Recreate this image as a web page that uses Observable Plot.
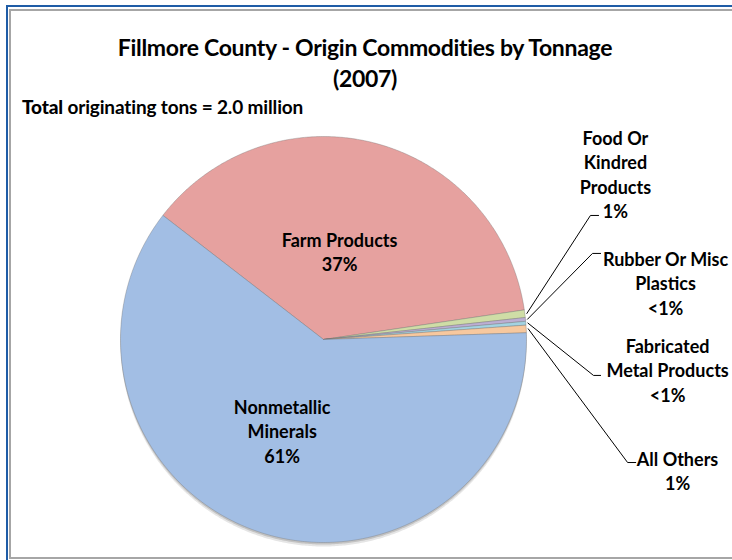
<!DOCTYPE html>
<html>
<head>
<meta charset="utf-8">
<script src="https://cdn.jsdelivr.net/npm/d3@7"></script>
<script src="https://cdn.jsdelivr.net/npm/@observablehq/plot@0.6"></script>
<style>
  html, body { margin: 0; padding: 0; background: #fff; }
  #wrap { position: relative; width: 732px; height: 560px; overflow: hidden; font-family: Lato, "Open Sans", sans-serif; color: #000; }
  .frameO { position: absolute; left: 6px; top: 5px; width: 900px; height: 700px; border-left: 2px solid #1F5CA6; border-top: 2px solid #1F5CA6; }
  .frameI { position: absolute; left: 9px; top: 9px; width: 900px; height: 546px; border: 2px solid #A6A6A6; }
  #chart { position: absolute; left: 0; top: 0; }
  .title { position: absolute; left: 0; width: 730px; text-align: center; font-weight: 700; font-size: 23px; line-height: 26px; letter-spacing: -0.3px; }
  .total { position: absolute; left: 22px; top: 96px; font-weight: 700; font-size: 19px; line-height: 22px; letter-spacing: -0.15px; }
  .total b { font-weight: 900; }
</style>
</head>
<body>
<div id="wrap">
  <div class="frameO"></div>
  <div class="frameI"></div>
  <div id="chart"></div>
  <div class="title" style="top:34px">Fillmore County - Origin Commodities by Tonnage</div>
  <div class="title" style="top:65px">(2007)</div>
  <div class="total"><b>Total</b> originating tons = 2.0 million</div>
</div>
<script>
// ---- data ----
const categories = ["Farm Products", "Food Or Kindred Products", "Rubber Or Misc Plastics", "Fabricated Metal Products", "All Others", "Nonmetallic Minerals"];
const shares = [37.2, 0.6, 0.3, 0.3, 0.6, 61.0];
const percentLabels = ["37%", "1%", "<1%", "<1%", "1%", "61%"];
const labelNames = [
  ["Farm Products"],
  ["Food Or", "Kindred", "Products"],
  ["Rubber Or Misc", "Plastics"],
  ["Fabricated", "Metal Products"],
  ["All Others"],
  ["Nonmetallic", "Minerals"]
];

// ---- styling / layout ----
const sliceColors = ["#E6A19F", "#CFDDA6", "#BCAED3", "#A3D3E2", "#F7C89E", "#A2BEE4"];
const startDeg = 307.7;            // first slice starts here (clockwise from 12 o'clock)
const cx = 323, cy = 339, R = 203; // pie placement in pixels
const insideLayout = {"Farm Products": {f: 0.45, dx: -7}, "Nonmetallic Minerals": {f: 0.47, dx: -12}};
const calloutLayout = {
  "Food Or Kindred Products":  {elbow: [1.315, 0.611], tail: 0.04, text: [1.438, 0.818]},
  "Rubber Or Misc Plastics":   {elbow: [1.325, 0.424], tail: 0.04, text: [1.685, 0.281]},
  "Fabricated Metal Products": {elbow: [1.330, -0.177], tail: 0.035, text: [1.695, -0.148]},
  "All Others":                {elbow: [1.498, -0.606], tail: 0.04, text: [1.744, -0.643]}
};
const labelFont = 18, labelLeading = 1.36;

const rows = categories.map((name, i) => ({name, share: shares[i], pct: percentLabels[i], label: labelNames[i], color: sliceColors[i]}));
const start = startDeg * Math.PI / 180;
const arcs = d3.pie().sort(null).value(d => d.share).startAngle(start).endAngle(start + 2 * Math.PI)(rows);

function arcPoints(a0, a1, withCenter) {
  const n = Math.max(2, Math.ceil((a1 - a0) / (0.5 * Math.PI / 180)));
  const pts = withCenter ? [{x: 0, y: 0}] : [];
  for (let k = 0; k <= n; k++) {
    const t = a0 + (a1 - a0) * k / n;
    pts.push({x: Math.sin(t), y: Math.cos(t)});
  }
  if (withCenter) pts.push({x: 0, y: 0});
  return pts;
}

const outline = arcPoints(0, 2 * Math.PI, false);
const sliceMarks = arcs.map(a =>
  Plot.line(arcPoints(a.startAngle, a.endAngle, true), {
    x: "x", y: "y", fill: a.data.color, stroke: "#707070", strokeOpacity: 0.5, strokeWidth: 0.7, strokeLinejoin: "round"
  })
);

const mid = a => (a.startAngle + a.endAngle) / 2;
const inside = arcs.filter(a => insideLayout[a.data.name]).map(a => {
  const L = insideLayout[a.data.name];
  return {x: Math.sin(mid(a)) * L.f + L.dx / R, y: Math.cos(mid(a)) * L.f, text: [...a.data.label, a.data.pct].join("\n")};
});
const leaders = [];
const callTexts = [];
for (const a of arcs) {
  const L = calloutLayout[a.data.name];
  if (!L) continue;
  const m = mid(a);
  leaders.push({name: a.data.name, x: Math.sin(m) * 1.01, y: Math.cos(m) * 1.01});
  leaders.push({name: a.data.name, x: L.elbow[0], y: L.elbow[1]});
  leaders.push({name: a.data.name, x: L.elbow[0] + L.tail, y: L.elbow[1]});
  callTexts.push({x: L.text[0], y: L.text[1], text: [...a.data.label, a.data.pct].join("\n")});
}

const plot = Plot.plot({
  width: 732,
  height: 560,
  margin: 0,
  x: {domain: [-1, 1], range: [cx - R, cx + R], axis: null},
  y: {domain: [-1, 1], range: [cy + R, cy - R], axis: null},
  style: {background: "transparent", overflow: "visible", fontFamily: "Lato, 'Open Sans', sans-serif"},
  marks: [
    Plot.line(outline, {x: "x", y: "y", fill: "#000", fillOpacity: 0.10, dy: 4}),
    Plot.line(outline, {x: "x", y: "y", fill: "#000", fillOpacity: 0.15, dy: 2}),
    ...sliceMarks,
    Plot.line(leaders, {x: "x", y: "y", z: "name", stroke: "#000", strokeWidth: 1}),
    Plot.text(inside, {x: "x", y: "y", text: "text", fontSize: labelFont, fontWeight: 700, lineHeight: labelLeading, fill: "#000"}),
    Plot.text(callTexts, {x: "x", y: "y", text: "text", fontSize: labelFont, fontWeight: 700, lineHeight: labelLeading, fill: "#000"})
  ]
});
document.getElementById("chart").appendChild(plot);
</script>
</body>
</html>
